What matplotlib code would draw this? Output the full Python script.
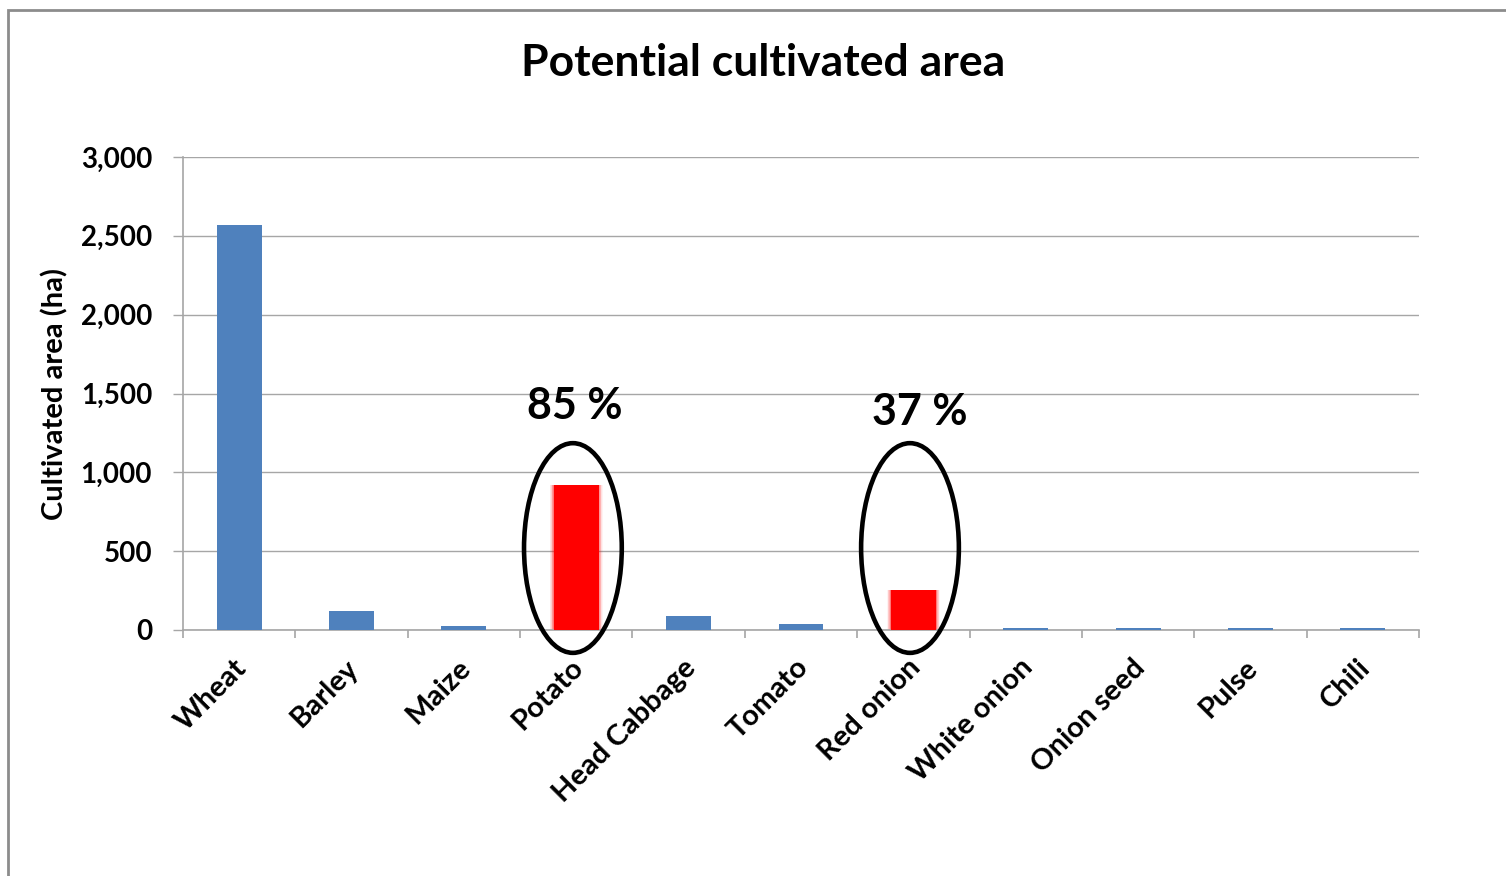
import matplotlib
matplotlib.use("Agg")
import matplotlib.pyplot as plt
from matplotlib.patches import Ellipse, Rectangle
import matplotlib.transforms as mtransforms
from matplotlib.ticker import FuncFormatter, FixedLocator
import numpy as np

categories = ["Wheat", "Barley", "Maize", "Potato", "Head Cabbage", "Tomato",
              "Red onion", "White onion", "Onion seed", "Pulse", "Chili"]
values = [2570, 120, 23, 920, 90, 38, 255, 10, 10, 10, 10]
highlight = ["Potato", "Red onion"]
highlight_labels = ["85 %", "37 %"]
yticks = [0, 500, 1000, 1500, 2000, 2500, 3000]

plt.rcParams['font.family'] = ['Lato', 'DejaVu Sans']

W, H = 1506, 876
fig = plt.figure(figsize=(W / 100, H / 100), dpi=100)

# outer frame
fig.patches.append(Rectangle((8 / W, -0.05), 1.1, (H - 10) / H + 0.05,
                             transform=fig.transFigure, fill=False,
                             edgecolor="#8c8c8c", linewidth=2))

ax = fig.add_axes([183 / W, (H - 630) / H, (1419 - 183) / W, (630 - 157) / H])

blue = "#4F81BD"
red = "#FF0000"
x = np.arange(len(categories))
colors = [red if c in highlight else blue for c in categories]
width = 0.40

# soft glow around red bars
for i, c in enumerate(categories):
    if c in highlight:
        for k, a in zip(range(6, 0, -1), [0.05, 0.07, 0.09, 0.12, 0.15, 0.2]):
            ax.bar(x[i], values[i], width=width + 0.012 * k, color=red,
                   alpha=a, zorder=2, linewidth=0)
ax.bar(x, values, width=width, color=colors, zorder=3, linewidth=0)

ax.set_xlim(-0.5, len(categories) - 0.5)
ax.set_ylim(0, 3000)
ax.yaxis.set_major_locator(FixedLocator(yticks))
ax.yaxis.set_major_formatter(FuncFormatter(lambda v, p: f"{int(v):,}"))
ax.grid(axis="y", color="#a6a6a6", linewidth=1, zorder=0)
ax.set_axisbelow(True)

for s in ["top", "right"]:
    ax.spines[s].set_visible(False)
for s in ["left", "bottom"]:
    ax.spines[s].set_color("#a6a6a6")
    ax.spines[s].set_linewidth(1.2)

ax.tick_params(axis="y", direction="out", length=7.2, width=1, color="#a6a6a6",
               labelsize=20, pad=15)
for lab in ax.get_yticklabels():
    lab.set_fontweight("bold")

# x ticks at category boundaries
ax.xaxis.set_major_locator(FixedLocator(np.arange(-0.5, len(categories), 1.0)))
ax.xaxis.set_major_formatter(FuncFormatter(lambda v, p: ""))
ax.tick_params(axis="x", direction="out", length=6, width=1.2, color="#a6a6a6")
ax.set_xticks(x, minor=True)
ax.set_xticklabels(categories, minor=True, rotation=45, ha="right",
                   rotation_mode="anchor", fontsize=21, fontweight="bold")
ax.tick_params(axis="x", which="minor", length=0, pad=11)
offset = mtransforms.ScaledTranslation(-6 / 100, -9 / 100, fig.dpi_scale_trans)
for lab in ax.xaxis.get_minorticklabels():
    lab.set_transform(lab.get_transform() + offset)

ax.set_ylabel("Cultivated area (ha)", fontsize=21, fontweight="bold", labelpad=9)

fig.text(763 / W, 1 - 63 / H, "Potential cultivated area", ha="center",
         va="center", fontsize=32, fontweight="bold")

# ellipses and percentage labels
for c, lbl in zip(highlight, highlight_labels):
    i = categories.index(c)
    e = Ellipse((x[i] - 0.03, 520), width=0.87, height=1330, fill=False,
                edgecolor="black", linewidth=3.3, zorder=5, clip_on=False)
    ax.add_patch(e)
    if c == "Potato":
        tx, ty = x[i] - 0.01, 1420
    else:
        tx, ty = x[i] + 0.06, 1380
    ax.text(tx, ty, lbl, ha="center", va="center", fontsize=31,
            fontweight="bold", zorder=6)

fig.savefig("out.png", dpi=100)
